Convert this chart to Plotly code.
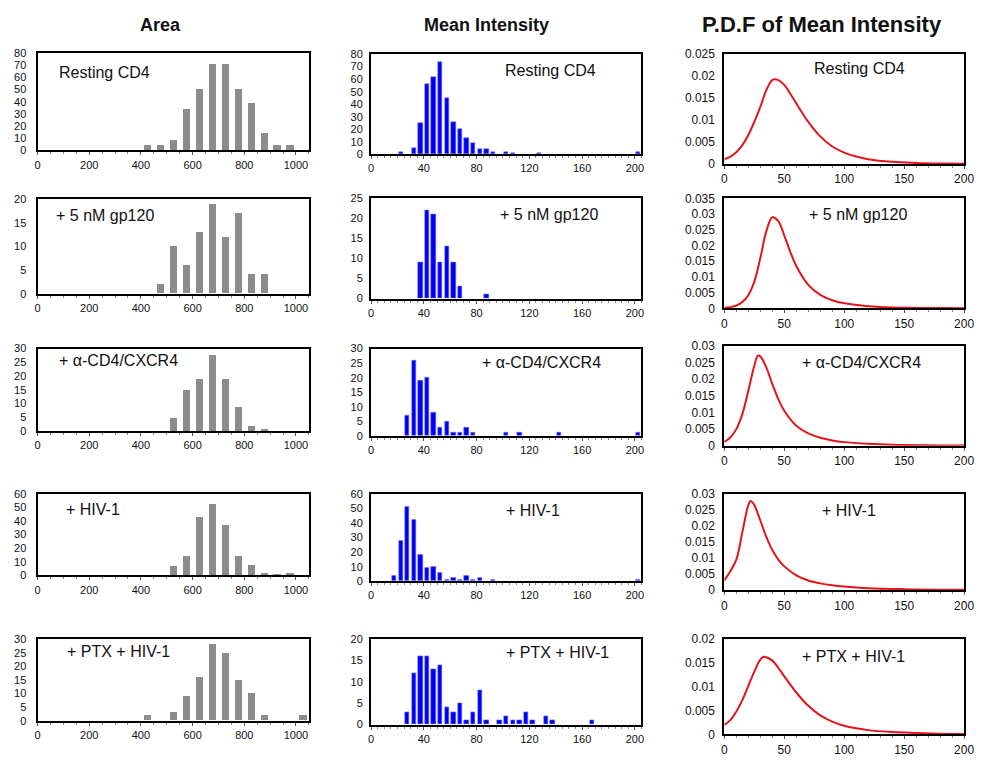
import plotly.graph_objects as go

# ---------------- data ----------------
conditions = ["Resting CD4", "+ 5 nM gp120", "+ \u03b1-CD4/CXCR4", "+ HIV-1", "+ PTX + HIV-1"]
column_titles = ["Area", "Mean Intensity", "P.D.F of Mean Intensity"]

# Area histograms (bin centres, bin width 50)
area_bins = [425, 475, 525, 575, 625, 675, 725, 775, 825, 875, 925, 975, 1025]
area_resting = [4, 4, 8, 34, 50, 71, 71, 50, 39, 14, 4, 4, 0]
area_gp120 = [0, 2, 10, 6, 13, 19, 12, 17, 4, 4, 0, 0, 0]
area_cxcr4 = [0, 0, 5, 15, 19, 28, 19, 9, 2, 1, 0, 0, 0]
area_hiv = [0, 0, 7, 14, 43, 53, 37, 14, 8, 2, 1, 2, 0]
area_ptx = [2, 0, 3, 9, 16, 28, 25, 15, 10, 2, 0, 0, 2]

# Mean-intensity histograms (bin centres, bin width 5)
int_resting_x = [22.5, 32.5, 37.5, 42.5, 47.5, 52.5, 57.5, 62.5, 67.5, 72.5, 77.5, 82.5, 87.5, 92.5, 102.5, 107.5, 127.5, 202.5]
int_resting_y = [2, 5, 25, 56, 62, 74, 45, 26, 20, 13, 9, 4, 4, 2, 2, 1, 1, 2]
int_gp120_x = [37.5, 42.5, 47.5, 52.5, 57.5, 62.5, 67.5, 87.5]
int_gp120_y = [9, 22, 21, 9, 13, 9, 3, 1]
int_cxcr4_x = [27.5, 32.5, 37.5, 42.5, 47.5, 52.5, 57.5, 62.5, 67.5, 72.5, 77.5, 102.5, 112.5, 142.5, 202.5]
int_cxcr4_y = [7, 26, 19, 20, 8, 3, 5, 1, 1, 3, 1, 1, 1, 1, 1]
int_hiv_x = [17.5, 22.5, 27.5, 32.5, 37.5, 42.5, 47.5, 52.5, 57.5, 62.5, 67.5, 72.5, 77.5, 82.5, 92.5, 202.5]
int_hiv_y = [4, 28, 51, 42, 18, 9, 10, 6, 1, 2, 1, 4, 1, 2, 1, 1]
int_ptx_x = [27.5, 32.5, 37.5, 42.5, 47.5, 52.5, 57.5, 62.5, 67.5, 72.5, 77.5, 82.5, 87.5, 97.5, 102.5, 107.5, 112.5, 117.5, 122.5, 132.5, 137.5, 167.5]
int_ptx_y = [3, 12, 16, 16, 13, 14, 4, 3, 5, 1, 3, 8, 1, 1, 2, 1, 1, 3, 1, 2, 1, 1]

# P.D.F curves of mean intensity (read at sample points)
pdf_resting_x = [0, 5, 10, 15, 20, 25, 30, 35, 40, 42, 45, 50, 55, 60, 70, 80, 90, 100, 110, 120, 140, 160, 180, 200]
pdf_resting_y = [0.0011, 0.0017, 0.0027, 0.0043, 0.0066, 0.0096, 0.0130, 0.0168, 0.0191, 0.0193, 0.0191, 0.0180,
                 0.0160, 0.0138, 0.0096, 0.0063, 0.0040, 0.0026, 0.0017, 0.0011, 0.0005, 0.00025, 0.00012, 0.00006]
pdf_gp120_x = [0, 5, 10, 15, 20, 25, 30, 35, 40, 45, 50, 55, 60, 70, 80, 90, 100, 110, 120, 140, 160, 180, 200]
pdf_gp120_y = [0.0002, 0.0004, 0.0009, 0.0020, 0.0042, 0.0085, 0.0160, 0.0245, 0.0290, 0.0278, 0.0232, 0.0180,
               0.0135, 0.0075, 0.0043, 0.0026, 0.0016, 0.0011, 0.0007, 0.0003, 0.00015, 0.00008, 0.00004]
pdf_cxcr4_x = [0, 5, 10, 15, 20, 25, 28, 30, 35, 40, 45, 50, 60, 70, 80, 90, 100, 120, 140, 160, 180, 200]
pdf_cxcr4_y = [0.0012, 0.0025, 0.0050, 0.0095, 0.0165, 0.0240, 0.0270, 0.0268, 0.0235, 0.0185, 0.0140, 0.0105,
               0.0060, 0.0037, 0.0024, 0.0016, 0.0011, 0.0006, 0.0003, 0.0002, 0.0001, 0.00006]
pdf_hiv_x = [0, 5, 10, 15, 20, 22, 25, 30, 35, 40, 45, 50, 60, 70, 80, 90, 100, 120, 150, 200]
pdf_hiv_y = [0.0030, 0.0059, 0.0095, 0.0180, 0.0265, 0.0278, 0.0265, 0.0217, 0.0166, 0.0125, 0.0095, 0.0074,
             0.0046, 0.0030, 0.0021, 0.0015, 0.0011, 0.0006, 0.0003, 0.0001]
pdf_ptx_x = [0, 5, 10, 15, 20, 25, 30, 33, 35, 40, 45, 50, 60, 70, 80, 90, 100, 120, 140, 160, 180, 200]
pdf_ptx_y = [0.0020, 0.0030, 0.0048, 0.0072, 0.0102, 0.0132, 0.0157, 0.0163, 0.0162, 0.0155, 0.0140, 0.0122,
             0.0088, 0.0060, 0.0040, 0.0027, 0.0018, 0.0009, 0.0005, 0.0003, 0.00015, 0.0001]

area_series = [area_resting, area_gp120, area_cxcr4, area_hiv, area_ptx]
int_series = [(int_resting_x, int_resting_y), (int_gp120_x, int_gp120_y), (int_cxcr4_x, int_cxcr4_y),
              (int_hiv_x, int_hiv_y), (int_ptx_x, int_ptx_y)]
pdf_series = [(pdf_resting_x, pdf_resting_y), (pdf_gp120_x, pdf_gp120_y), (pdf_cxcr4_x, pdf_cxcr4_y),
              (pdf_hiv_x, pdf_hiv_y), (pdf_ptx_x, pdf_ptx_y)]

# y-axis (max, step) per panel
y_area = [(80, 10), (20, 5), (30, 5), (60, 10), (30, 5)]
y_int = [(80, 10), (25, 5), (30, 5), (60, 10), (20, 5)]
y_pdf = [(0.025, 0.005), (0.035, 0.005), (0.03, 0.005), (0.03, 0.005), (0.02, 0.005)]

# ---------------- layout geometry (pixels) ----------------
W, H = 984, 763
col_px = [(35, 310), (373, 647), (731, 974)]
row_px = [
    [(47, 146), (48, 150), (48, 160)],
    [(196, 292), (195, 297), (195, 307)],
    [(348, 432), (348, 437), (345, 447)],
    [(496, 579), (496, 585), (496, 594)],
    [(644, 727), (644, 731), (644, 741)],
]
# label anchor positions (px): left x, center y
label_px = [
    [(55, 67), (507, 65), (820, 63)],
    [(52, 212), (502, 211), (815, 211)],
    [(55, 360), (483, 362), (808, 362)],
    [(62, 512), (508, 513), (828, 513)],
    [(63, 657), (508, 658), (808, 662)],
]
title_px = [(160, 18), (490, 18), (830, 18)]
title_size = [18, 18, 22]

FONT = "Liberation Sans, Arial, Helvetica, sans-serif"
fig = go.Figure()
layout = dict(width=W, height=H, margin=dict(l=0, r=0, t=0, b=0), autosize=False,
              paper_bgcolor="white", plot_bgcolor="white", showlegend=False,
              font=dict(family=FONT, color="#111"))
annotations = []

for r in range(5):
    for c in range(3):
        n = r * 3 + c + 1
        xa = "x" if n == 1 else f"x{n}"
        ya = "y" if n == 1 else f"y{n}"
        xkey = "xaxis" if n == 1 else f"xaxis{n}"
        ykey = "yaxis" if n == 1 else f"yaxis{n}"
        top, bot = row_px[r][c]
        left, right = col_px[c]

        if c == 0:
            fig.add_trace(go.Bar(x=area_bins, y=area_series[r], width=28,
                                 marker=dict(color="#8c8c8c", line=dict(width=0)),
                                 xaxis=xa, yaxis=ya))
            xr = [0, 1050]; xt = [0, 200, 400, 600, 800, 1000]; minor_dt = 50
            ymax, ystep = y_area[r]; tfs = 11; stand = 7
        elif c == 1:
            xs, ys = int_series[r]
            fig.add_trace(go.Bar(x=xs, y=ys, width=3.3,
                                 marker=dict(color="#0000ee", line=dict(width=0.6, color="#6f6fff")),
                                 xaxis=xa, yaxis=ya))
            xr = [0, 205]; xt = [0, 40, 80, 120, 160, 200]; minor_dt = 5
            ymax, ystep = y_int[r]; tfs = 11; stand = 4
        else:
            xs, ys = pdf_series[r]
            fig.add_trace(go.Scatter(x=xs, y=ys, mode="lines",
                                     line=dict(color="#e3151b", width=2, shape="spline", smoothing=1.0),
                                     xaxis=xa, yaxis=ya))
            xr = [0, 200]; xt = [0, 50, 100, 150, 200]; minor_dt = 10
            ymax, ystep = y_pdf[r]; tfs = 12; stand = 5

        yt = []
        v = 0.0
        while v <= ymax + 1e-9:
            yt.append(round(v, 4))
            v += ystep
        ytext = [("%g" % t) for t in yt]

        layout[xkey] = dict(domain=[left / W, right / W], range=xr, anchor=ya,
                            showgrid=False, zeroline=False, showline=True, mirror=True,
                            linecolor="black", linewidth=2,
                            tickvals=xt, ticks="outside", ticklen=3, tickcolor="#555",
                            tickfont=dict(family=FONT, size=tfs, color="#111"),
                            minor=dict(dtick=minor_dt, tick0=0, ticks="outside", ticklen=2, tickcolor="#888"),
                            fixedrange=True)
        layout[ykey] = dict(domain=[1 - bot / H, 1 - top / H], range=[0, ymax], anchor=xa,
                            showgrid=False, zeroline=False, showline=True, mirror=True,
                            linecolor="black", linewidth=2,
                            tickvals=yt, ticktext=ytext, ticks="",
                            ticklabelstandoff=stand,
                            tickfont=dict(family=FONT, size=tfs, color="#111"),
                            fixedrange=True)

        lx, ly = label_px[r][c]
        annotations.append(dict(text=conditions[r], xref="paper", yref="paper",
                                x=lx / W, y=1 - ly / H, xanchor="left", yanchor="middle",
                                showarrow=False, font=dict(family=FONT, size=16, color="#111")))

for i, t in enumerate(column_titles):
    tx, ty = title_px[i]
    annotations.append(dict(text=f"<b>{t}</b>", xref="paper", yref="paper",
                            x=tx / W, y=1 - ty / H, xanchor="center", yanchor="middle",
                            showarrow=False, font=dict(family=FONT, size=title_size[i], color="#111")))

layout["annotations"] = annotations
layout["bargap"] = 0
fig.update_layout(**layout)
fig.write_html("out.html",
               config={"displayModeBar": False, "responsive": False},
               post_script="document.documentElement.style.margin='0';document.body.style.margin='0';"
                           "document.body.style.padding='0';document.body.style.overflow='hidden';")
